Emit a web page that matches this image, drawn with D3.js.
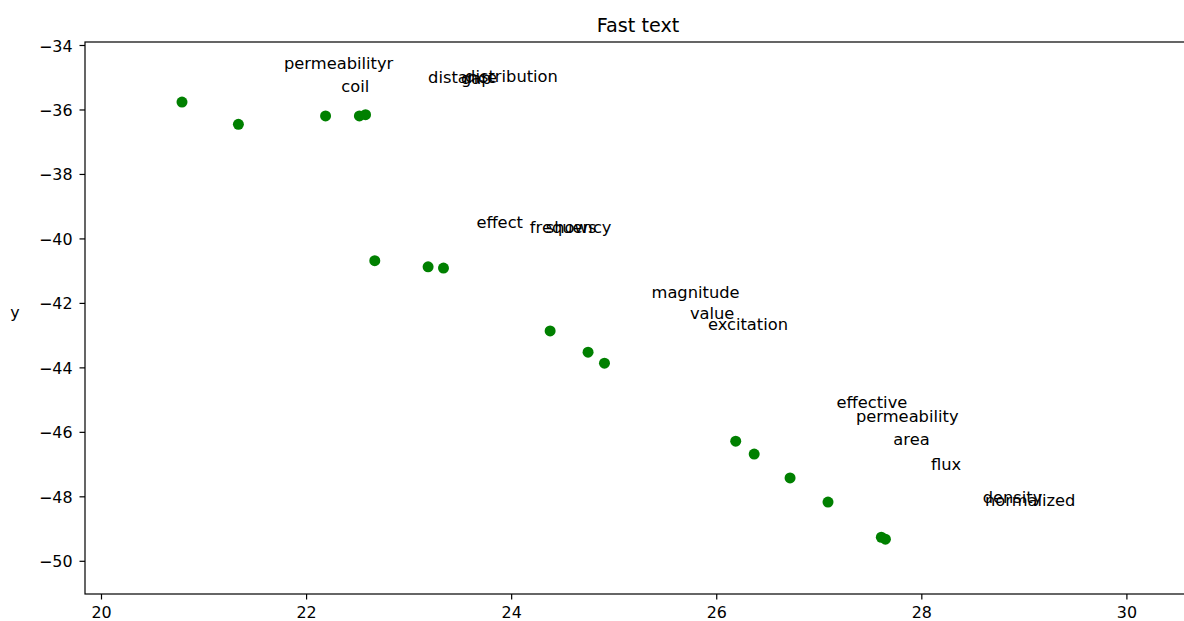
<!DOCTYPE html>
<html>
<head>
<meta charset="utf-8">
<script src="https://cdn.jsdelivr.net/npm/d3@7"></script>
<style>
  html, body { margin: 0; padding: 0; background: #fff; }
  svg { display: block; font-family: "DejaVu Sans", sans-serif; }
</style>
</head>
<body>
<svg id="chart" width="1184" height="621"></svg>
<script>
// ---- data ----
const pointX = [20.79, 21.34, 22.19, 22.52, 22.58, 22.67, 23.19, 23.34, 24.38, 24.75, 24.91, 26.19, 26.37, 26.72, 27.09, 27.61, 27.65];
const pointY = [-35.77, -36.46, -36.20, -36.20, -36.16, -40.69, -40.88, -40.92, -42.87, -43.53, -43.87, -46.29, -46.69, -47.43, -48.18, -49.27, -49.33];

const labelText = ["permeabilityr", "coil", "distance", "gap", "distribution", "effect", "frequency", "shows", "magnitude", "value", "excitation", "effective", "permeability", "area", "flux", "density", "normalized"];
const labelX = [21.785, 22.344, 23.190, 23.510, 23.551, 23.661, 24.182, 24.338, 25.369, 25.743, 25.919, 27.173, 27.363, 27.727, 28.094, 28.598, 28.621];
const labelY = [-34.754, -35.449, -35.179, -35.200, -35.139, -39.687, -39.842, -39.833, -41.859, -42.511, -42.843, -45.272, -45.688, -46.411, -47.187, -48.220, -48.303];

const xTicks = [20, 22, 24, 26, 28, 30];
const yTicks = [-34, -36, -38, -40, -42, -44, -46, -48, -50];
const xDomain = [19.844, 30.63];
const yDomain = [-51.03, -33.907];
const titleText = "Fast text";
const yLabelText = "y";

// ---- layout ----
const mLeft = 85, mRight = 1191, mTop = 42, mBottom = 594;
const svg = d3.select("#chart");
const x = d3.scaleLinear().domain(xDomain).range([mLeft, mRight]);
const y = d3.scaleLinear().domain(yDomain).range([mBottom, mTop]);

const fs = 16.3;

// points
svg.append("g").selectAll("circle")
  .data(pointX.map((d, i) => [d, pointY[i]]))
  .join("circle")
  .attr("cx", d => x(d[0]))
  .attr("cy", d => y(d[1]))
  .attr("r", 5.5)
  .attr("fill", "#008000");

// labels
svg.append("g").selectAll("text")
  .data(labelText.map((t, i) => ({t, x: labelX[i], y: labelY[i]})))
  .join("text")
  .attr("x", d => x(d.x))
  .attr("y", d => y(d.y))
  .attr("font-size", fs)
  .attr("fill", "#000")
  .text(d => d.t);

// spines
const spine = svg.append("g").attr("stroke", "#000").attr("stroke-width", 1.2).attr("fill", "none");
spine.append("rect").attr("x", mLeft).attr("y", mTop).attr("width", mRight - mLeft).attr("height", mBottom - mTop);

// axes
const xAxis = svg.append("g")
  .attr("transform", `translate(0,${mBottom})`)
  .call(d3.axisBottom(x).tickValues(xTicks).tickSize(5.5).tickPadding(7).tickFormat(d3.format("d")));
const yAxis = svg.append("g")
  .attr("transform", `translate(${mLeft},0)`)
  .call(d3.axisLeft(y).tickValues(yTicks).tickSize(5.5).tickPadding(7).tickFormat(d3.format("d")));
[xAxis, yAxis].forEach(a => {
  a.select(".domain").remove();
  a.selectAll(".tick line").attr("stroke", "#000").attr("stroke-width", 1.2);
  a.selectAll(".tick text").attr("font-size", 15.9).attr("font-family", "DejaVu Sans").attr("fill", "#000");
});
yAxis.selectAll(".tick text").attr("dy", "0.38em");

// title
svg.append("text")
  .attr("x", (mLeft + mRight) / 2)
  .attr("y", 32)
  .attr("text-anchor", "middle")
  .attr("font-size", 19.2)
  .attr("fill", "#000")
  .text(titleText);

// y label (horizontal)
svg.append("text")
  .attr("x", 15)
  .attr("y", 318)
  .attr("text-anchor", "middle")
  .attr("font-size", 15.9)
  .attr("fill", "#000")
  .text(yLabelText);
</script>
</body>
</html>
